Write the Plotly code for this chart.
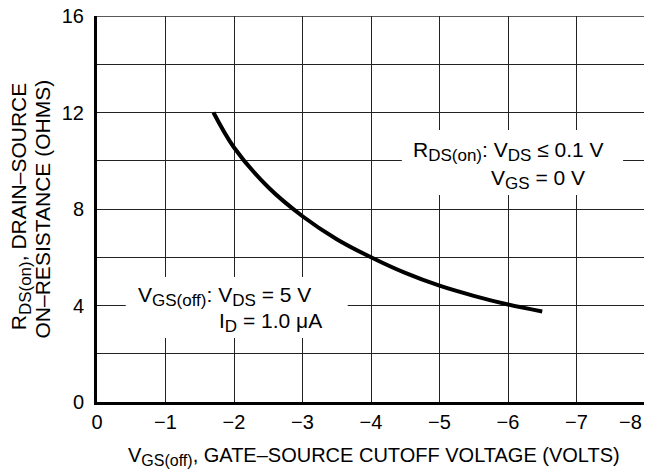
import plotly.graph_objects as go

# Data
vgs_off = [-1.7, -2.0, -2.5, -3.0, -3.5, -4.0, -4.5, -5.0, -5.5, -6.0, -6.5]
rds_on = [12.0, 10.55, 8.9, 7.7, 6.75, 6.0, 5.35, 4.82, 4.4, 4.04, 3.75]

x_ticks = [0, -1, -2, -3, -4, -5, -6, -7, -8]
x_ticktext = ["0", "−1", "−2", "−3", "−4", "−5", "−6", "−7", ""]
x_last_label = "−8"
y_ticks = [0, 4, 8, 12, 16]

FONT = "Liberation Sans, Arial, Helvetica, sans-serif"


def sub(s, size):
    return f"<sub><span style='font-size:{size}px'>{s}</span></sub>"


fig = go.Figure()
fig.add_trace(go.Scatter(
    x=vgs_off, y=rds_on, mode="lines",
    line=dict(color="black", width=4, shape="spline", smoothing=1.0),
    showlegend=False, hoverinfo="skip",
))

# white boxes that interrupt the grid behind the condition labels
fig.add_shape(type="rect", xref="x", yref="y", x0=-4.45, x1=-7.68, y0=8.58, y1=11.27,
              fillcolor="white", line=dict(width=0), layer="between")
fig.add_shape(type="rect", xref="x", yref="y", x0=-0.42, x1=-3.66, y0=2.65, y1=5.18,
              fillcolor="white", line=dict(width=0), layer="between")

ann_font = dict(family=FONT, size=21, color="black")
anns = [
    dict(x=-4.58, y=10.37, text=f"R{sub('DS(on)', 17)}: V{sub('DS', 17)} ≤ 0.1 V"),
    dict(x=-5.72, y=9.23, text=f"V{sub('GS', 17)} = 0 V"),
    dict(x=-0.57, y=4.38, text=f"V{sub('GS(off)', 17)}: V{sub('DS', 17)} = 5 V"),
    dict(x=-1.75, y=3.3, text=f"I{sub('D', 17)} = 1.0 μA"),
]
for a in anns:
    fig.add_annotation(xref="x", yref="y", yanchor="middle", xanchor="left",
                       showarrow=False, font=ann_font, **a)

tick_font = dict(family=FONT, size=20, color="black")

# last x tick label, nudged inward so it is not clipped at the edge
fig.add_annotation(xref="paper", yref="paper", x=1.0, y=0, xshift=-1, yshift=-20,
                   xanchor="right", yanchor="middle", showarrow=False,
                   font=tick_font, text=x_last_label)

# axis titles
fig.add_annotation(xref="paper", yref="paper", x=0.505, y=-0.142, yanchor="middle",
                   xanchor="center", showarrow=False,
                   font=dict(family=FONT, size=20, color="black"),
                   text=f"V{sub('GS(off)', 16)}, GATE–SOURCE CUTOFF VOLTAGE (VOLTS)")
ytitle_font = dict(family=FONT, size=21, color="black")
fig.add_annotation(xref="paper", yref="paper", x=-0.138, y=0.508, xanchor="center",
                   yanchor="middle", showarrow=False, font=ytitle_font, textangle=-90,
                   text=f"R{sub('DS(on)', 17)}, DRAIN–SOURCE")
fig.add_annotation(xref="paper", yref="paper", x=-0.0995, y=0.5, xanchor="center",
                   yanchor="middle", showarrow=False, font=ytitle_font, textangle=-90,
                   text="ON–RESISTANCE (OHMS)")

fig.update_xaxes(
    range=[0, -8], tickvals=x_ticks, ticktext=x_ticktext,
    showgrid=True, gridcolor="#222", gridwidth=1.3,
    showline=True, linecolor="black", linewidth=3, zeroline=False,
    ticks="", ticklen=0, ticklabelstandoff=0, ticklabeloverflow="allow",
    automargin=False, tickfont=tick_font,
)
fig.update_yaxes(
    range=[0, 16], tickvals=y_ticks, showgrid=True, gridcolor="#222", gridwidth=1.3,
    minor=dict(dtick=2, showgrid=True, gridcolor="#222", gridwidth=1.3),
    showline=True, linecolor="black", linewidth=3, zeroline=False,
    ticks="", ticklen=0, ticklabelstandoff=6, ticklabeloverflow="allow",
    automargin=False, tickfont=tick_font,
)

fig.add_shape(type="line", xref="x", yref="paper", x0=-8, x1=-8, y0=0, y1=1,
              line=dict(color="#222", width=1.3), layer="between")
fig.add_shape(type="line", xref="paper", yref="y", x0=0, x1=1, y0=16, y1=16,
              line=dict(color="#222", width=1.3), layer="between")

# the page body adds an 8px offset; margins are set so the plot area lands
# where the reference has it
fig.update_layout(
    width=652, height=463,
    margin=dict(l=89, r=15, t=8, b=69),
    plot_bgcolor="white", paper_bgcolor="white",
    font=dict(family=FONT, size=20, color="black"),
)

fig.write_html("out.html")
